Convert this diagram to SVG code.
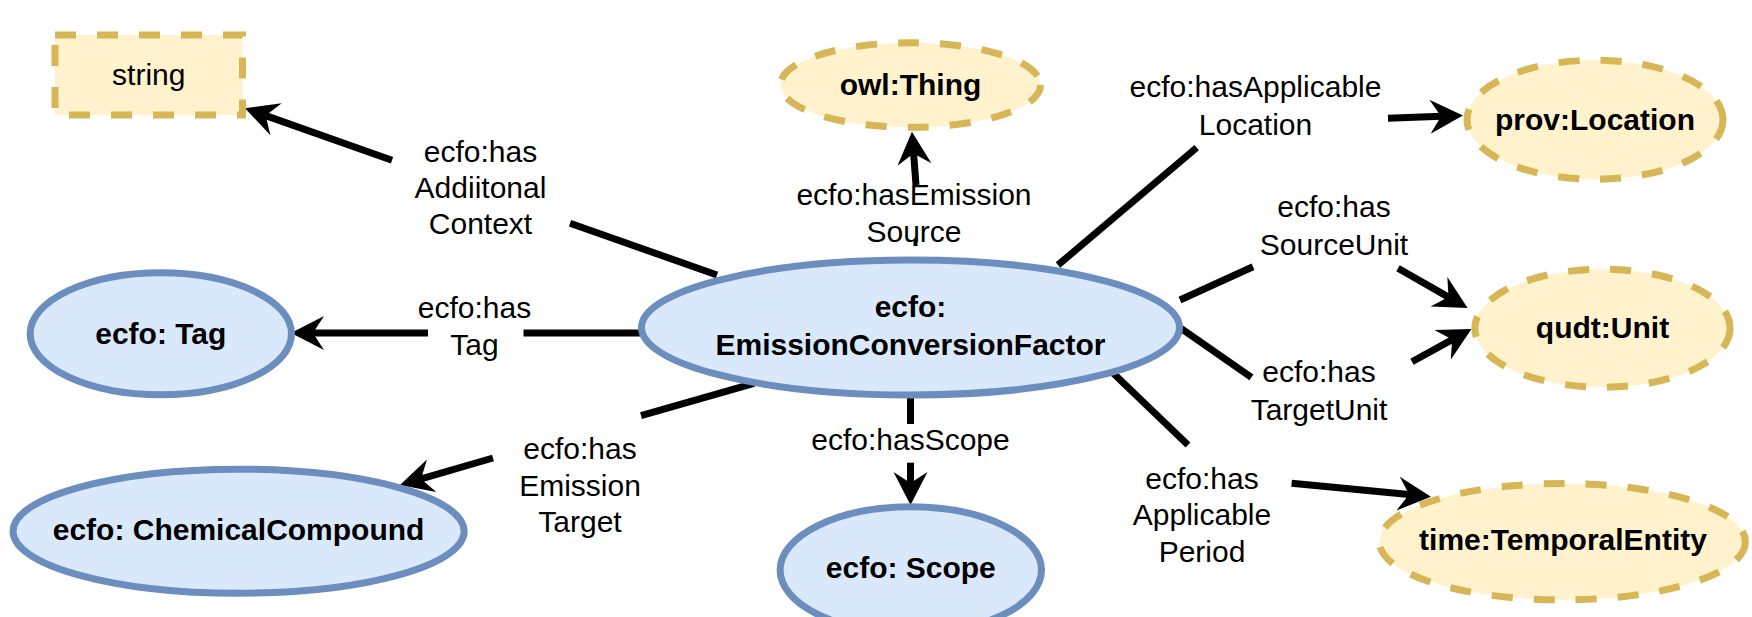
<svg xmlns="http://www.w3.org/2000/svg" width="1752" height="617" viewBox="0 0 1752 617">
  <style>
    .cls { fill: #dae8fc; stroke: #6c8ebf; stroke-width: 7; }
    .ext { fill: #fff2cc; stroke: #d6b656; stroke-width: 7; stroke-dasharray: 21 21; }
    .nt { font-family: "Liberation Sans", Arial, sans-serif; font-size: 30px; font-weight: bold; fill: #000; text-anchor: middle; }
    .st { font-family: "Liberation Sans", Arial, sans-serif; font-size: 30px; fill: #000; text-anchor: middle; }
    .lbl { font-family: "Liberation Sans", Arial, sans-serif; font-size: 30px; fill: #000; text-anchor: middle; }
    .edge { fill: none; stroke: #000; stroke-width: 7; }
    .arr { fill: none; stroke: #000; stroke-width: 7; marker-end: url(#ah); }
  </style>
  <defs>
    <marker id="ah" markerUnits="userSpaceOnUse" markerWidth="34" markerHeight="36" viewBox="0 0 34 36" refX="11" refY="18" orient="auto">
      <path d="M33,18 L0,1 L11,18 L0,35 Z" fill="#000"/>
    </marker>
  </defs>
  <rect width="1752" height="617" fill="#ffffff"/>

  <g id="connectors">
    <!-- hasAdditionalContext -->
    <line class="edge" x1="717" y1="275" x2="570" y2="223.2"/>
    <line class="arr" x1="392" y1="160.2" x2="265.7" y2="115.6"/>
    <!-- hasTag -->
    <line class="edge" x1="640" y1="333" x2="523.5" y2="333"/>
    <line class="arr" x1="428" y1="333" x2="313" y2="333"/>
    <!-- hasEmissionSource -->
    <line class="edge" x1="915.5" y1="239" x2="915.5" y2="246" style="stroke-width:4"/>
    <line class="arr" x1="916" y1="185" x2="913.6" y2="153.6"/>
    <!-- hasApplicableLocation -->
    <line class="edge" x1="1058" y1="265" x2="1196.7" y2="147.7"/>
    <line class="arr" x1="1388" y1="118.3" x2="1441" y2="116.3"/>
    <!-- hasSourceUnit -->
    <line class="edge" x1="1180" y1="300" x2="1253" y2="266.7"/>
    <line class="arr" x1="1398" y1="268.3" x2="1448.5" y2="297.1"/>
    <!-- hasTargetUnit -->
    <line class="edge" x1="1181" y1="328.3" x2="1251.4" y2="377.3"/>
    <line class="arr" x1="1412" y1="361.7" x2="1452.2" y2="339.6"/>
    <!-- hasApplicablePeriod -->
    <line class="edge" x1="1113" y1="373" x2="1188" y2="445"/>
    <line class="arr" x1="1291.6" y1="483.3" x2="1409.1" y2="494.6"/>
    <!-- hasEmissionTarget -->
    <line class="edge" x1="754" y1="383.3" x2="641" y2="415.6"/>
    <line class="arr" x1="493" y1="458" x2="421.1" y2="478.9"/>
    <!-- hasScope -->
    <line class="edge" x1="910.5" y1="397" x2="910.5" y2="424"/>
    <line class="arr" x1="910.5" y1="462.7" x2="910.5" y2="483"/>

    <!-- edge labels -->
    <text class="lbl" x="480.5" y="161.5">ecfo:has</text>
    <text class="lbl" x="480.5" y="197.5">Addiitonal</text>
    <text class="lbl" x="480.5" y="233.5">Context</text>

    <text class="lbl" x="474.5" y="318.3">ecfo:has</text>
    <text class="lbl" x="474.5" y="355">Tag</text>

    <text class="lbl" x="914" y="204.5">ecfo:hasEmission</text>
    <text class="lbl" x="914" y="242">Source</text>

    <text class="lbl" x="1255.5" y="97">ecfo:hasApplicable</text>
    <text class="lbl" x="1255.5" y="135">Location</text>

    <text class="lbl" x="1334" y="216.7">ecfo:has</text>
    <text class="lbl" x="1334" y="255">SourceUnit</text>

    <text class="lbl" x="1319" y="381.7">ecfo:has</text>
    <text class="lbl" x="1319" y="420">TargetUnit</text>

    <text class="lbl" x="1202" y="489">ecfo:has</text>
    <text class="lbl" x="1202" y="525.3">Applicable</text>
    <text class="lbl" x="1202" y="561.7">Period</text>

    <text class="lbl" x="580" y="459.3">ecfo:has</text>
    <text class="lbl" x="580" y="495.5">Emission</text>
    <text class="lbl" x="580" y="532">Target</text>

    <text class="lbl" x="910.5" y="450">ecfo:hasScope</text>
  </g>

  <g id="node-string">
    <rect class="ext" x="55" y="35" width="187.5" height="80"/>
    <text class="st" x="148.75" y="85">string</text>
  </g>

  <g id="node-owl-thing">
    <ellipse class="ext" cx="910.5" cy="85" rx="130" ry="42.3"/>
    <text class="nt" x="910.5" y="95">owl:Thing</text>
  </g>

  <g id="node-prov-location">
    <ellipse class="ext" cx="1595" cy="119.7" rx="128" ry="59.5"/>
    <text class="nt" x="1595" y="130">prov:Location</text>
  </g>

  <g id="node-qudt-unit">
    <ellipse class="ext" cx="1602.5" cy="328.2" rx="127.6" ry="59"/>
    <text class="nt" x="1602.5" y="338.3">qudt:Unit</text>
  </g>

  <g id="node-time-temporalentity">
    <ellipse class="ext" cx="1562.4" cy="541.7" rx="183" ry="58.2"/>
    <text class="nt" x="1563" y="550">time:TemporalEntity</text>
  </g>

  <g id="node-ecfo-tag">
    <ellipse class="cls" cx="160.8" cy="333.8" rx="130.7" ry="61"/>
    <text class="nt" x="160.8" y="344.3">ecfo: Tag</text>
  </g>

  <g id="node-ecfo-chemicalcompound">
    <ellipse class="cls" cx="238.6" cy="531.2" rx="225.6" ry="62"/>
    <text class="nt" x="238.6" y="540">ecfo: ChemicalCompound</text>
  </g>

  <g id="node-ecfo-scope">
    <ellipse class="cls" cx="910.8" cy="570" rx="130.7" ry="63.2"/>
    <text class="nt" x="910.8" y="578.3">ecfo: Scope</text>
  </g>

  <g id="node-ecfo-emissionconversionfactor">
    <ellipse class="cls" cx="910.5" cy="327.5" rx="269" ry="67.5"/>
    <text class="nt" x="910.5" y="316.7">ecfo:</text>
    <text class="nt" x="910.5" y="355">EmissionConversionFactor</text>
  </g>
</svg>
